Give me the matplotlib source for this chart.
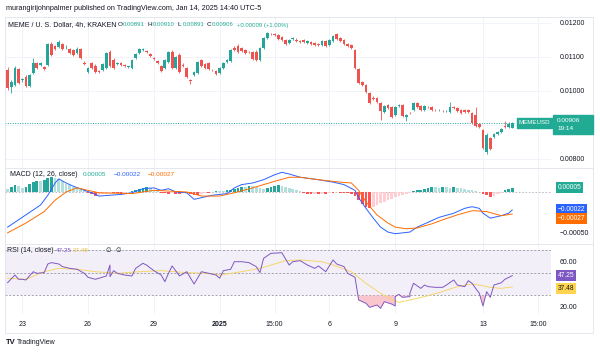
"""MEMEUSD 4h chart (Kraken) with MACD and RSI panes, TradingView style."""

import matplotlib

matplotlib.use("Agg")
import matplotlib.pyplot as plt
import matplotlib.transforms as mtransforms
from matplotlib.lines import Line2D
from matplotlib.patches import Rectangle
import numpy as np

W, H = 600, 354
plt.rcParams["font.family"] = ["Liberation Sans", "DejaVu Sans"]

GREEN = "#26A69A"
RED = "#EF5350"
TEXT = "#131722"
GRID = "#F0F3FA"
BORDER = "#E0E3EB"
PURPLE = "#7E57C2"
YELLOW = "#F5D66B"

# price values in units of 0.00001 USD, one entry per 4h candle (Dec 22 11:00 .. Jan 14 11:00)
OPEN = [1062, 1012, 1018, 1065, 1032, 1041, 1015, 1053, 1082, 1077, 1071, 1077, 1138, 1132, 1129,
        1138, 1129, 1124, 1121, 1112, 1124, 1082, 1056, 1082, 1074, 1059, 1062, 1068, 1115, 1091,
        1079, 1082, 1077, 1071, 1068, 1097, 1112, 1121, 1118, 1109, 1097, 1088, 1074, 1068, 1085,
        1115, 1068, 1106, 1077, 1068, 1032, 1047, 1053, 1091, 1079, 1082, 1062, 1059, 1053, 1068,
        1085, 1088, 1127, 1132, 1127, 1121, 1115, 1115, 1115, 1091, 1127, 1156, 1168, 1168, 1165,
        1159, 1150, 1141, 1153, 1150, 1147, 1150, 1141, 1144, 1141, 1138, 1135, 1147, 1135, 1147,
        1168, 1156, 1150, 1138, 1135, 1121, 1065, 1026, 1018, 994, 979, 979, 965, 938, 959,
        953, 929, 956, 959, 924, 935, 944, 965, 956, 944, 953, 953, 944, 944, 941,
        941, 938, 953, 950, 944, 944, 944, 935, 929, 903, 885, 821, 862, 865, 874,
        879, 897, 894, 891]
HIGH = [1071, 1032, 1074, 1068, 1038, 1047, 1050, 1097, 1085, 1085, 1074, 1141, 1144, 1135, 1150,
        1141, 1135, 1127, 1124, 1129, 1127, 1088, 1071, 1085, 1079, 1062, 1082, 1115, 1121, 1097,
        1085, 1085, 1079, 1074, 1094, 1112, 1127, 1127, 1121, 1112, 1100, 1091, 1077, 1094, 1118,
        1121, 1103, 1112, 1082, 1071, 1035, 1059, 1088, 1094, 1082, 1085, 1065, 1062, 1071, 1085,
        1094, 1124, 1132, 1138, 1129, 1124, 1118, 1118, 1121, 1129, 1159, 1174, 1171, 1171, 1168,
        1162, 1153, 1153, 1159, 1156, 1150, 1153, 1150, 1147, 1144, 1141, 1150, 1150, 1153, 1165,
        1171, 1159, 1153, 1141, 1138, 1124, 1068, 1029, 1021, 997, 985, 982, 968, 959, 962,
        956, 956, 962, 962, 932, 938, 968, 968, 959, 959, 956, 956, 947, 947, 944,
        944, 968, 956, 953, 947, 947, 947, 938, 953, 906, 888, 876, 865, 877, 882,
        891, 912, 909, 910]
LOW = [1003, 994, 1015, 1021, 1026, 1012, 1012, 1050, 1065, 1074, 1062, 1074, 1103, 1121, 1127,
       1121, 1124, 1109, 1103, 1109, 1094, 1077, 1053, 1065, 1053, 1053, 1059, 1065, 1071, 1065,
       1077, 1074, 1071, 1068, 1065, 1094, 1109, 1118, 1112, 1100, 1091, 1079, 1056, 1065, 1082,
       1065, 1065, 1053, 1071, 1038, 1021, 1044, 1050, 1071, 1065, 1062, 1059, 1047, 1050, 1065,
       1082, 1085, 1118, 1112, 1115, 1109, 1112, 1091, 1088, 1088, 1124, 1153, 1165, 1162, 1150,
       1147, 1135, 1138, 1150, 1144, 1141, 1141, 1138, 1135, 1132, 1132, 1132, 1129, 1132, 1144,
       1150, 1144, 1135, 1129, 1124, 1065, 1021, 1015, 994, 962, 974, 965, 915, 935, 947,
       921, 926, 953, 924, 912, 932, 941, 950, 941, 941, 950, 941, 941, 941, 938,
       938, 935, 947, 938, 932, 935, 935, 903, 894, 891, 829, 815, 827, 862, 871,
       877, 891, 891, 891]
CLOSE = [1009, 1026, 1068, 1024, 1035, 1015, 1047, 1082, 1068, 1082, 1065, 1138, 1106, 1124, 1144,
         1124, 1130, 1112, 1106, 1124, 1097, 1079, 1068, 1068, 1056, 1056, 1079, 1112, 1074, 1068,
         1082, 1077, 1074, 1072, 1091, 1109, 1124, 1122, 1115, 1103, 1094, 1082, 1059, 1091, 1115,
         1068, 1100, 1056, 1074, 1041, 1029, 1056, 1085, 1074, 1068, 1065, 1061, 1050, 1068, 1082,
         1091, 1121, 1121, 1115, 1118, 1112, 1114, 1094, 1091, 1127, 1156, 1171, 1167, 1165, 1153,
         1150, 1138, 1150, 1156, 1147, 1144, 1144, 1147, 1138, 1135, 1136, 1147, 1132, 1150, 1162,
         1153, 1147, 1138, 1132, 1127, 1068, 1024, 1018, 997, 965, 977, 968, 941, 956, 950,
         924, 953, 959, 926, 929, 934, 965, 953, 944, 956, 952, 944, 943, 945, 940,
         942, 953, 950, 941, 935, 938, 938, 906, 897, 894, 832, 871, 829, 874, 879,
         888, 894, 903, 906]
PRICE_UNIT = 1e-5

# MACD pane, values in units of 0.00001, sampled at candle indices
MACD_IDX = [0, 3, 5, 7, 9, 11, 13, 14, 16, 18, 21, 23, 25, 28, 31, 34, 37, 40, 42, 44, 46, 49,
            51, 54, 56, 60, 62, 64, 67, 70, 73, 75, 77, 80, 85, 89, 92, 95, 96, 98, 100, 102,
            104, 106, 108, 110, 112, 115, 118, 122, 125, 127, 129, 130, 132, 135, 137, 138]
MACD_VALS = [-43, -34, -28, -22, -16, -4, 11, 16, 11, 7, 2, -1, -5, -4, -3, -1, 4, 5, 2, 4, 0,
             -1, -9, -6, -4, -2, 5, 9, 11, 15, 21, 24, 22, 18, 15, 12, 9, 2, -7, -20, -32, -43,
             -49, -51, -50, -49, -43, -37, -31, -26, -20, -18, -20, -26, -32, -29, -26, -22]
SIGNAL_IDX = [0, 5, 10, 13, 16, 19, 22, 25, 34, 40, 49, 53, 58, 62, 67, 73, 77, 80, 85, 91,
              94, 96, 98, 101, 104, 106, 109, 112, 116, 119, 123, 127, 128, 131, 135, 138]
SIGNAL_VALS = [-50, -38, -24, -10, 0, 5, 2, -1, -2, 2, 0, -5, -5, -1, 5, 13, 18, 18, 15, 12,
               11, 2, -12, -28, -38, -43, -45, -44, -39, -34, -28, -23, -23, -24, -29, -27]
HIST = [4, 6, 8, 7, 5, 6, 10,
        12, 13, 13, 15, 17, 18, 17, 16,
        13, 10, 8, 6, 5, 4, 3,
        -1, -3, -5, -4,
        -3, -2, -1, -1, -1, -2, -1, 0, 1,
        2, 4, 5, 6, 5,
        3, 2,
        -1, -1, -2, -1, -2, -2, -1, -1,
        -3, -4, -4,
        -2, -1, -1, 0, 1, 1,
        1, 2, 3, 4, 5, 6, 6, 7, 7,
        6, 5, 4,
        5, 6, 7, 8,
        7, 6, 5, 4, 2, 1,
        -1, -2, -3, -2, -3, -2, -2,
        -1, -1, 0, -1, -1, -1, -2,
        -5, -10, -15, -18, -20,
        -18, -16, -14, -12, -10, -8, -6, -5, -4, -3, -1,
        1, 2, 3, 4, 5, 6, 6,
        5, 6, 6, 5, 6, 5,
        5, 4, 3, 2, 1, 0,
        -2, -4, -6, -5,
        -3, -1,
        2, 4, 5]
MACD_UNIT = 1e-5

# RSI pane
RSI_IDX = [0, 2, 3, 4, 5, 7, 8, 10, 11, 12, 14, 15, 17, 19, 21, 22, 24, 25, 27, 28, 28, 29,
           30, 32, 34, 35, 37, 38, 40, 42, 43, 44, 45, 47, 49, 51, 53, 55, 57, 58, 59, 61, 62,
           64, 66, 68, 69, 70, 72, 75, 77, 78, 80, 82, 84, 85, 87, 89, 90, 92, 93, 95, 96, 98,
           99, 101, 102, 103, 105, 106, 106, 107, 108, 110, 110, 111, 113, 114, 115, 117, 119,
           120, 122, 123, 125, 126, 127, 128, 129, 130, 131, 132, 133, 135, 136, 138]
RSI_VALS = [41.1, 47.8, 44.1, 44.1, 43.5, 50.7, 49.3, 49.9, 57.4, 58.6, 57.4, 55.1, 53.6,
            52.8, 49.3, 45.8, 44.1, 45.0, 47.0, 56.5, 46.4, 51.6, 49.3, 47.8, 47.0, 53.6,
            58.0, 56.5, 51.6, 47.8, 42.0, 49.3, 55.7, 47.0, 50.7, 40.0, 50.7, 49.3, 47.8,
            45.0, 51.6, 52.8, 59.4, 59.4, 58.6, 55.1, 49.9, 62.3, 66.7, 67.2, 56.5, 59.4,
            60.3, 56.5, 53.6, 55.7, 50.7, 60.9, 57.4, 55.1, 49.3, 45.8, 26.1, 23.2, 19.7,
            21.7, 18.8, 24.6, 22.6, 20.9, 29.0, 31.0, 28.4, 29.0, 31.9, 40.6, 36.2, 39.1,
            37.7, 37.1, 37.1, 39.1, 43.5, 39.1, 37.7, 42.9, 40.6, 36.2, 31.9, 20.9, 33.3,
            28.4, 39.1, 41.1, 44.1, 47.25]
RSI_MA_IDX = [0, 5, 10, 14, 19, 24, 30, 36, 42, 49, 55, 58, 64, 69, 73, 76, 80, 86, 89, 94,
              98, 102, 105, 107, 110, 114, 118, 123, 127, 129, 132, 135, 138]
RSI_MA_VALS = [45.0, 44.1, 50.7, 53.6, 52.8, 50.7, 49.3, 50.7, 51.6, 49.9, 49.3, 47.8, 50.7,
               53.6, 57.4, 60.3, 60.9, 59.4, 56.5, 50.7, 40.6, 31.9, 26.7, 24.0, 26.1, 29.0,
               32.5, 37.7, 40.0, 39.1, 37.1, 36.2, 37.48]

X_TICKS = [4, 22, 40, 58, 73, 88, 106, 130, 145]
X_LABELS = ["23", "26", "29", "2025", "15:00", "6", "9", "13", "15:00"]
PRICE_TICKS = [0.012, 0.011, 0.010, 0.009, 0.008]
LAST_PRICE = 0.00906
MACD_LAST = (0.00005, -0.00022, -0.00027)
RSI_LAST = (47.25, 37.48)


def px_axes(fig, left, top, right, bottom):
    return fig.add_axes([left / W, 1 - bottom / H, (right - left) / W, (bottom - top) / H])


def px_text(fig, x, y, s, **kw):
    kw.setdefault("fontsize", 5)
    kw.setdefault("color", TEXT)
    kw.setdefault("va", "center")
    fig.text(x / W, 1 - y / H, s, **kw)


def px_rect(fig, x0, y0, x1, y1, **kw):
    fig.patches.append(Rectangle((x0 / W, 1 - y1 / H), (x1 - x0) / W, (y1 - y0) / H,
                                 transform=fig.transFigure, **kw))


def px_line(fig, x0, y0, x1, y1, **kw):
    fig.lines.append(Line2D([x0 / W, x1 / W], [1 - y0 / H, 1 - y1 / H],
                            transform=fig.transFigure, **kw))


def minus(v, fmt):
    return format(v, fmt).replace("-", "\u2212")


def style_pane(ax, xlim):
    for spine in ax.spines.values():
        spine.set_visible(False)
    ax.set_xlim(*xlim)
    ax.set_xticks(X_TICKS)
    ax.tick_params(axis="x", length=0, labelbottom=False)
    ax.yaxis.tick_right()
    ax.tick_params(axis="y", length=0, pad=6, labelsize=5, labelcolor=TEXT)
    ax.grid(axis="x", color=GRID, linewidth=0.7)
    ax.set_axisbelow(True)


def value_box(ax, y, s, fc, tc="white"):
    trans = mtransforms.blended_transform_factory(ax.transAxes, ax.transData)
    ax.text(1.012, y, s, transform=trans, fontsize=4.8, color=tc, va="center", ha="left",
            bbox=dict(boxstyle="square,pad=0.3", fc=fc, ec="none"), clip_on=False, zorder=10)


def main():
    fig = plt.figure(figsize=(W / 100, H / 100), dpi=100)
    fig.patch.set_facecolor("white")
    xlim = (-0.71, 148.6)
    idx = np.arange(len(CLOSE))

    # --- price pane
    ax = px_axes(fig, 5, 17, 551, 168)
    style_pane(ax, xlim)
    o = np.array(OPEN) * PRICE_UNIT
    hi = np.array(HIGH) * PRICE_UNIT
    lo = np.array(LOW) * PRICE_UNIT
    c = np.array(CLOSE) * PRICE_UNIT
    colors = np.where(c >= o, GREEN, RED)
    ax.vlines(idx, lo, hi, colors=colors, linewidth=0.6, zorder=3)
    ax.bar(idx, np.maximum(np.abs(c - o), 0.000012), bottom=np.minimum(o, c), width=0.74,
           color=colors, linewidth=0, zorder=4)
    ax.set_ylim(0.0077353, 0.012176)
    ax.set_yticks(PRICE_TICKS)
    # the 0.00900 label sits under the last-price box, so it is left blank
    ax.set_yticklabels([f"{t:.5f}" if abs(t - 0.009) > 1e-9 else "" for t in PRICE_TICKS])
    ax.grid(axis="y", color=GRID, linewidth=0.7)
    ax.plot([xlim[0], idx[-1] + 0.5], [LAST_PRICE] * 2, color=GREEN, linewidth=0.7,
            linestyle=(0, (1, 1.5)), zorder=2)
    px_rect(fig, 517, 118, 552, 128, color="#22AB94", zorder=10)
    px_text(fig, 534.5, 123, "MEMEUSD", color="white", ha="center", fontsize=4.4, zorder=11)
    px_rect(fig, 553, 115, 593, 134, color="#22AB94", zorder=10)
    px_text(fig, 557, 120, f"{LAST_PRICE:.5f}", color="white", fontsize=4.6, zorder=11)
    px_text(fig, 557, 129, "19:14", color="white", fontsize=4.6, zorder=11)

    # --- MACD pane
    axm = px_axes(fig, 5, 168, 551, 244)
    style_pane(axm, xlim)
    hist = np.array(HIST) * MACD_UNIT
    prev = np.concatenate([[hist[0]], hist[:-1]])
    hcols = []
    for h, p in zip(hist, prev):
        if h >= 0:
            hcols.append("#26A69A" if h > p else "#B2DFDB")
        else:
            hcols.append("#FFCDD2" if h > p else "#FF5252")
    axm.bar(idx, hist, width=0.74, color=hcols, linewidth=0, zorder=2)
    axm.axhline(0, color="#B2B5BE", linewidth=0.6, linestyle=(0, (2, 2)), zorder=1)
    axm.plot(MACD_IDX, np.array(MACD_VALS) * MACD_UNIT, color="#2962FF", linewidth=0.7, zorder=3)
    axm.plot(SIGNAL_IDX, np.array(SIGNAL_VALS) * MACD_UNIT, color="#FF6D00", linewidth=0.7,
             zorder=3)
    axm.set_ylim(-0.000636, 0.000293)
    axm.set_yticks([-0.0005])
    axm.set_yticklabels([minus(-0.0005, ".5f")])
    value_box(axm, MACD_LAST[0], minus(MACD_LAST[0], ".5f"), "#22AB94")
    value_box(axm, MACD_LAST[1] + 0.00001, minus(MACD_LAST[1], ".5f"), "#2962FF")
    value_box(axm, MACD_LAST[2] - 0.00005, minus(MACD_LAST[2], ".5f"), "#FF6D00")
    px_text(fig, 10, 175, "MACD (12, 26, close)")
    px_text(fig, 83, 175, minus(MACD_LAST[0], ".5f"), color="#22AB94", fontsize=4.6)
    px_text(fig, 114, 175, minus(MACD_LAST[1], ".5f"), color="#2962FF", fontsize=4.6)
    px_text(fig, 148, 175, minus(MACD_LAST[2], ".5f"), color="#FF6D00", fontsize=4.6)

    # --- RSI pane
    axr = px_axes(fig, 5, 244, 551, 314)
    style_pane(axr, xlim)
    axr.axhspan(30, 70, color=PURPLE, alpha=0.09, linewidth=0, zorder=0)
    for level in (70, 50, 30):
        axr.axhline(level, color="#9598A1", linewidth=0.6, linestyle=(0, (2.5, 2)), zorder=1)
    rsi = np.array(RSI_VALS)
    axr.fill_between(RSI_IDX, rsi, 30, where=rsi < 30, interpolate=True, color="#F7A1AD",
                     alpha=0.6, linewidth=0, zorder=2)
    axr.plot(RSI_MA_IDX, RSI_MA_VALS, color=YELLOW, linewidth=0.7, zorder=3)
    axr.plot(RSI_IDX, rsi, color=PURPLE, linewidth=0.7, zorder=4)
    axr.set_ylim(13.9, 74.8)
    axr.set_yticks([60, 20])
    axr.set_yticklabels(["60.00", "20.00"])
    value_box(axr, RSI_LAST[0], f"{RSI_LAST[0]:.2f}", PURPLE)
    value_box(axr, RSI_LAST[1] - 1.0, f"{RSI_LAST[1]:.2f}", "#FFD54F", tc=TEXT)
    axr.tick_params(axis="x", labelbottom=True, pad=5, labelsize=5, labelcolor=TEXT)
    axr.set_xticklabels(X_LABELS)
    for lab in axr.get_xticklabels():
        if lab.get_text() == "2025":
            lab.set_fontweight("bold")
    px_text(fig, 7, 251, "RSI (14, close)", bbox=dict(fc="#F3F0FA", ec="none", pad=0.2))
    px_text(fig, 56, 251, f"{RSI_LAST[0]:.2f}", color=PURPLE, fontsize=4.6)
    px_text(fig, 73, 251, f"{RSI_LAST[1]:.2f}", color="#E8C44A", fontsize=4.6)
    px_text(fig, 106, 251, "\u2205", family="DejaVu Sans", fontsize=4.5)
    px_text(fig, 116, 251, "\u2205", family="DejaVu Sans", fontsize=4.5)

    # --- frame, separators and header
    px_rect(fig, 5, 17, 593, 333, fill=False, edgecolor=BORDER, linewidth=0.6)
    px_line(fig, 5, 168, 593, 168, color=BORDER, linewidth=0.6)
    px_line(fig, 5, 244, 593, 244, color=BORDER, linewidth=0.6)
    px_text(fig, 6, 9, "murangirijohnpalmer published on TradingView.com, Jan 14, 2025 14:40 UTC-5",
            fontsize=5.2)
    px_text(fig, 8, 25, "MEME / U. S. Dollar, 4h, KRAKEN", fontsize=5)
    ohlc = [("O", 118, 0.00891), ("H", 148, 0.00910), ("L", 178, 0.00891), ("C", 207, 0.00906)]
    for letter, x, v in ohlc:
        px_text(fig, x, 25, letter, fontsize=4.6)
        px_text(fig, x + 5, 25, f"{v:.5f}", fontsize=4.3, color="#22AB94")
    px_text(fig, 237, 25, "+0.00009 (+1.00%)", fontsize=4.3, color="#22AB94")
    px_text(fig, 6, 343, "TV", fontsize=5.5, fontweight="bold")
    px_text(fig, 17, 343, "TradingView", fontsize=5)

    fig.savefig("out.png", dpi=100)
    plt.close(fig)


if __name__ == "__main__":
    main()
